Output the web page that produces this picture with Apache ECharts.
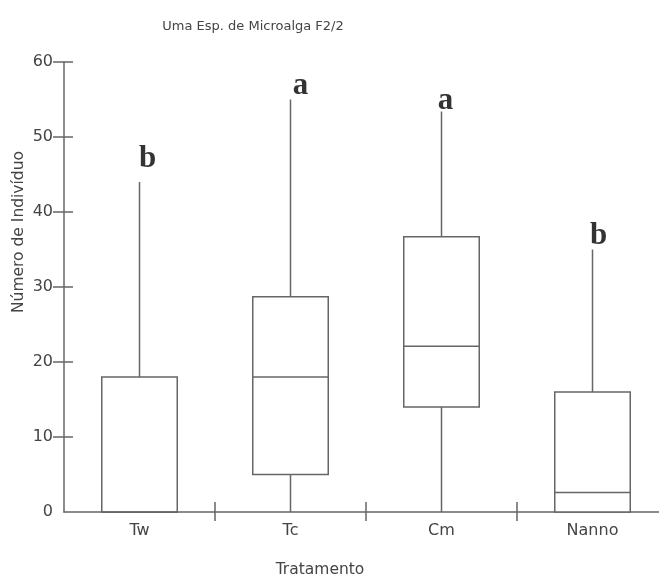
<!DOCTYPE html>
<html><head><meta charset="utf-8">
<script src="https://cdn.jsdelivr.net/npm/echarts@6/dist/echarts.min.js"></script>
<style>html,body{margin:0;padding:0;background:#fff}#c{width:659px;height:578px}</style>
</head><body><div id="c"></div>
<script>
var categories = ['Tw', 'Tc', 'Cm', 'Nanno'];
var whiskerLow = [0, 0, 0, 0];
var q1 = [0, 5, 14, 0];
var median = [0, 18, 22.1, 2.6];
var q3 = [18, 28.7, 36.7, 16];
var whiskerHigh = [44, 55, 53.4, 35];
var letters = ['b', 'a', 'a', 'b'];
var yTicks = [10, 20, 30, 40, 50, 60];
var yLabels = [0, 10, 20, 30, 40, 50, 60];

var lineColor = '#666';
var textColor = '#444';
var font = '"DejaVu Sans", sans-serif';

var boxData = categories.map(function (c, i) {
  return [i, whiskerLow[i], q1[i], median[i], q3[i], whiskerHigh[i]];
});
var letterOffsets = [[8, -8], [10, 2], [4, 5], [6, 2]];
var letterData = categories.map(function (c, i) {
  return { value: [i, whiskerHigh[i]], label: { formatter: letters[i], offset: letterOffsets[i] } };
});

var chart = echarts.init(document.getElementById('c'), null, { renderer: 'canvas' });
chart.setOption({
  animation: false,
  backgroundColor: '#fff',
  title: {
    text: 'Uma Esp. de Microalga F2/2',
    left: 248, top: 15, textAlign: 'center',
    textStyle: { fontFamily: font, fontSize: 13, fontWeight: 'normal', color: textColor }
  },
  grid: { left: 64, top: 62, bottom: 66, width: 604, containLabel: false, outerBoundsMode: 'none' },
  xAxis: [{
    type: 'category', data: categories, boundaryGap: true,
    axisLine: { lineStyle: { color: lineColor, width: 1.5 } },
    axisTick: { show: true, inside: false, length: 9, interval: function (index) { return index !== 0; }, lineStyle: { color: lineColor, width: 1.5 } },
    axisLabel: { color: textColor, fontFamily: font, fontSize: 16, margin: 11 },
    splitLine: { show: false }
  }, {
    type: 'category', data: categories, boundaryGap: true, position: 'bottom',
    axisLine: { show: false },
    axisTick: { show: true, inside: true, length: 10, interval: function (index) { return index !== 0; }, lineStyle: { color: lineColor, width: 1.5 } },
    axisLabel: { show: false }, splitLine: { show: false }
  }],
  yAxis: [{
    type: 'value', min: 0, max: 60, interval: 10,
    axisLine: { show: true, lineStyle: { color: lineColor, width: 1.5 } },
    axisTick: { show: true, length: 11, customValues: yTicks, lineStyle: { color: lineColor, width: 1.5 } },
    axisLabel: { color: textColor, fontFamily: font, fontSize: 16, margin: 11, customValues: yLabels },
    splitLine: { show: false }
  }, {
    type: 'value', min: 0, max: 60, interval: 10, position: 'left',
    axisLine: { show: false },
    axisTick: { show: true, inside: true, length: 9, customValues: yTicks, lineStyle: { color: lineColor, width: 1.5 } },
    axisLabel: { show: false }, splitLine: { show: false }
  }],
  graphic: [{
    type: 'text', x: 320, y: 570,
    style: { text: 'Tratamento', fill: textColor, font: '15.5px ' + font, textAlign: 'center', textVerticalAlign: 'middle' }
  }, {
    type: 'text', x: 19, y: 232, rotation: Math.PI / 2,
    style: { text: 'Número de Indivíduo', fill: textColor, font: '15.5px ' + font, textAlign: 'center', textVerticalAlign: 'middle' }
  }],
  series: [{
    type: 'custom',
    data: boxData,
    encode: { x: 0, y: [1, 2, 3, 4, 5] },
    renderItem: function (params, api) {
      var idx = api.value(0);
      var band = api.size([1, 0])[0];
      var half = band * 0.25;
      var pLow = api.coord([idx, api.value(1)]);
      var pQ1 = api.coord([idx, api.value(2)]);
      var pMed = api.coord([idx, api.value(3)]);
      var pQ3 = api.coord([idx, api.value(4)]);
      var pHigh = api.coord([idx, api.value(5)]);
      var cx = pLow[0];
      var st = { stroke: lineColor, lineWidth: 1.5, fill: null };
      return {
        type: 'group',
        children: [
          { type: 'line', shape: { x1: cx, y1: pLow[1], x2: cx, y2: pQ1[1] }, style: st },
          { type: 'line', shape: { x1: cx, y1: pQ3[1], x2: cx, y2: pHigh[1] }, style: st },
          { type: 'rect', shape: { x: cx - half, y: pQ3[1], width: half * 2, height: pQ1[1] - pQ3[1] }, style: { stroke: lineColor, lineWidth: 1.5, fill: '#fff' } },
          { type: 'line', shape: { x1: cx - half, y1: pMed[1], x2: cx + half, y2: pMed[1] }, style: st }
        ]
      };
    },
    z: 2
  }, {
    type: 'scatter',
    data: letterData,
    symbolSize: 0,
    label: {
      show: true, position: 'top', distance: 0,
      fontFamily: '"Liberation Serif", "Times New Roman", serif', fontWeight: 'bold', fontSize: 31, color: '#000'
    },
    z: 3
  }]
});
</script></body></html>
